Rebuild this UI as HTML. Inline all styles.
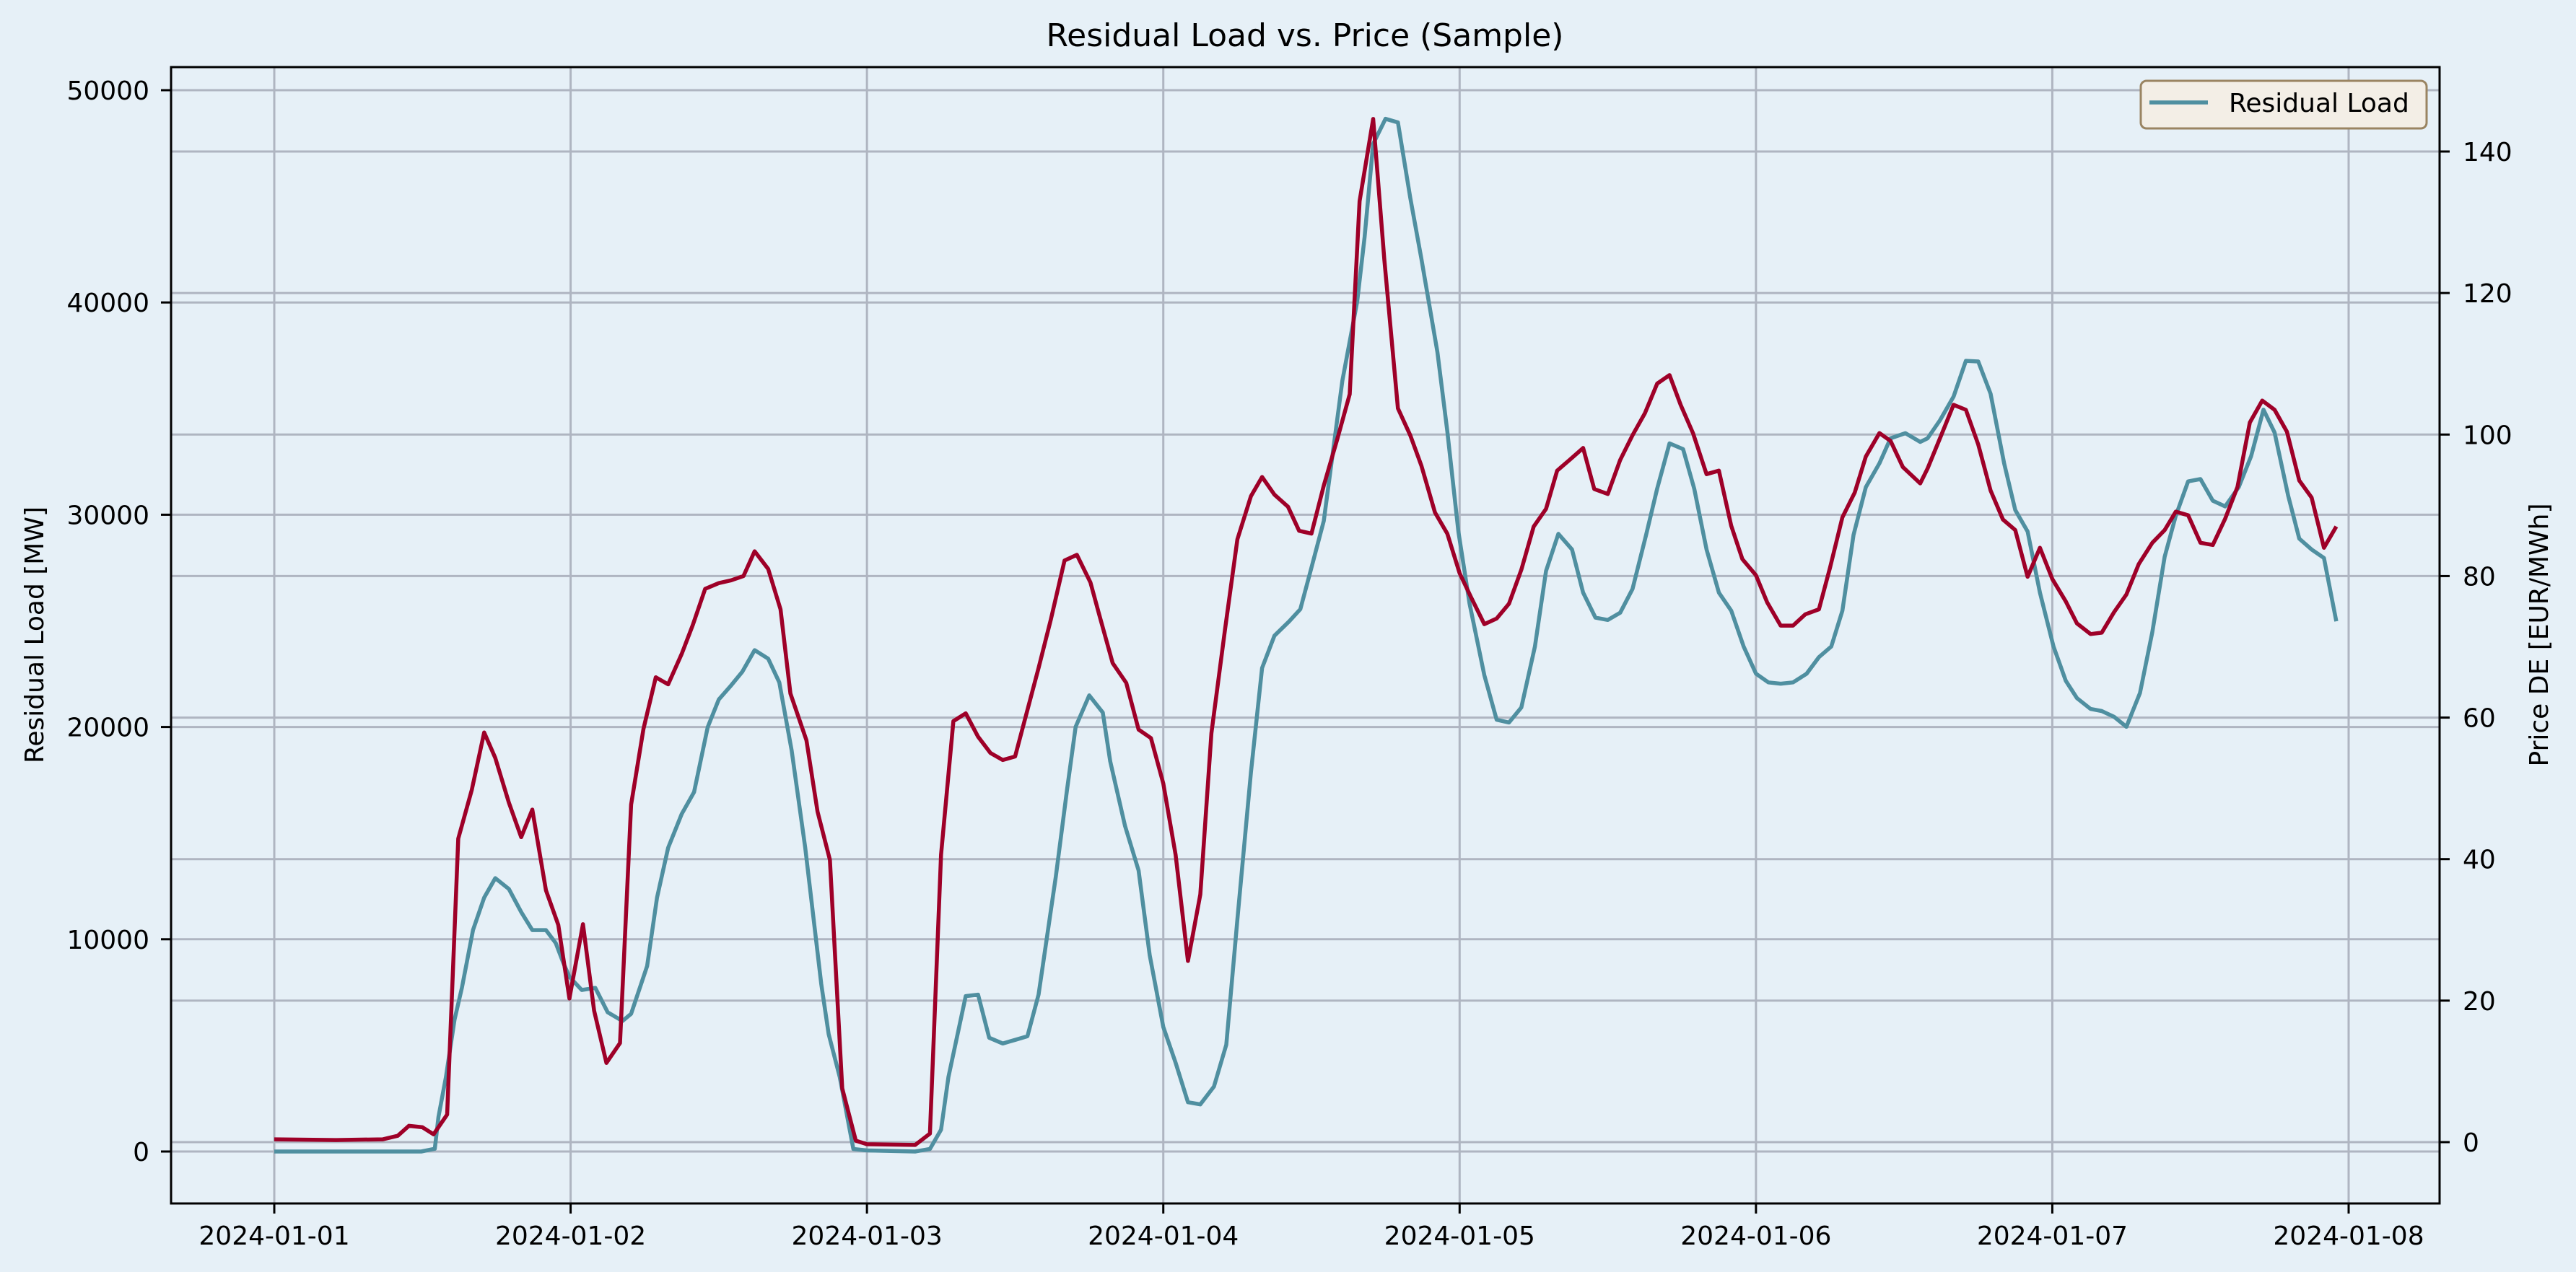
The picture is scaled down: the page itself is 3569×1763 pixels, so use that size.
<!DOCTYPE html>
<html><head><meta charset="utf-8"><title>Residual Load vs. Price (Sample)</title>
<style>
html,body{margin:0;padding:0;background:#e6f0f7;}
svg{display:block;font-family:"DejaVu Sans","Liberation Sans",sans-serif;}
</style></head>
<body>
<svg id="chart" width="3569" height="1763" viewBox="0 0 3569 1763" xmlns="http://www.w3.org/2000/svg">
<rect x="0" y="0" width="3569" height="1763" fill="#e6f0f7"/>
<rect x="237" y="93" width="3143" height="1575" fill="#e6f0f7"/>
<g id="grid"></g>
<g id="series"></g>
<rect x="237" y="93" width="3143" height="1575" fill="none" stroke="#000" stroke-width="3"/>
<g id="ticks"></g>
<text x="1808" y="64" font-size="44" text-anchor="middle" fill="#000">Residual Load vs. Price (Sample)</text>
<text transform="translate(60,880) rotate(-90)" font-size="36" text-anchor="middle" fill="#000">Residual Load [MW]</text>
<text transform="translate(3530,880) rotate(-90)" font-size="36" text-anchor="middle" fill="#000">Price DE [EUR/MWh]</text>
<g>
<rect x="2966" y="112" width="396" height="66" rx="8" fill="#f3eee6" stroke="#9a8462" stroke-width="3"/>
<line x1="2978" y1="142" x2="3059" y2="142" stroke="#4f8fa0" stroke-width="5.5"/>
<text x="3088" y="155" font-size="36" fill="#000">Residual Load</text>
</g>
</svg>
<script>
// Residual load series (hours since 2024-01-01 00:00, MW)
const loadHours = [0,11.9,13,13.3,13.9,14.6,15.2,16.1,17,17.9,19,20,20.9,22,22.8,23.4,23.9,24.9,26,27,28.2,28.9,30.2,31,31.9,33,34,35.1,36,37,37.9,38.9,40,40.9,41.9,
43,44.3,44.9,45.8,46.9,48,51.9,53.1,54,54.6,56,57,57.9,59,60,61,61.9,63.3,64.2,64.9,66,67.1,67.7,68.9,70,70.9,72,73,74,75,76.1,77.1,78,79.1,80,81,82.2,83.1,84,85,86.5,
87.7,88.3,89,90,91,92,92.9,94.2,95,95.9,96.8,98,99,100,101,102.1,103,104,105.1,106,107,108,109,110,111.1,112,113,114.1,115,116,117,118,119,120,121,122,123,124.1,125.1,126.1,127,127.9,128.9,130,130.9,132.1,
133.3,133.9,134.9,136,137,138,139,140.1,141,142,143,144.1,145.1,146,147.1,148,149,150,151.1,152.1,153.1,154,155,156,157,158,159.1,160.1,161.1,162,163.1,164,165,166,167];
const loadValues = [0,0,130,1630,3500,6220,7720,10440,11960,12880,12370,11280,10430,10430,9820,8900,8230,7610,7710,6560,6150,6490,8740,11960,14310,15900,16930,19990,21300,21960,22600,23620,23220,22100,18900,
14320,7900,5530,3500,120,50,0,120,1030,3500,7320,7390,5360,5090,5260,5430,7390,12970,17030,20010,21490,20680,18380,15340,13240,9250,5870,4180,2320,2220,3060,5030,10940,17880,22780,24300,24980,25550,27510,29710,36310,
40030,43070,47470,48650,48480,44930,42060,37660,33940,29200,25820,22440,20340,20210,20920,23790,27350,29100,28360,26330,25150,25040,25380,26500,29040,31230,33360,33090,31230,28360,26330,25480,23790,22510,22100,22040,22100,22510,23290,23790,25480,29040,31300,32420,33600,33840,
33430,33600,34450,35560,37250,37220,35700,32420,30220,29210,26330,23790,22170,21360,20850,20750,20480,20010,21600,24470,28020,29950,31570,31680,30660,30390,31300,32760,34950,33870,30900,28870,28360,27960,24980];
// Price series (hours, EUR/MWh)
const priceHours = [0,5,8.8,10,10.9,12,12.9,14,14.9,16,17,17.9,19,20,20.9,22,23,23.9,25,25.9,26.9,28,28.9,29.9,30.9,31.9,33,33.9,34.9,36,37,38,38.9,40,41,41.8,
43.1,44,45,46,47.1,48,51.9,53.1,54,55,56,57,58,59,60,61.9,62.9,64,65,66.1,66.8,67.9,69,70,71,72,73,74,75,75.9,77,78,79.1,80,81,82.1,83,84,85,86.1,87.1,87.9,
89,89.9,91,92,92.9,94,95,96,96.9,98,99,100,101,102,103,103.9,104.9,106,106.9,108,109,110,111,112,113,113.9,114.9,116,117,118,118.9,120,120.9,122,123,124,125.1,126,127,128,128.9,130,130.9,131.9,
133.3,133.9,135,136,137,138,139,140,141,142,143,144,145.1,146,147.1,148,149,150,151,152.1,153.1,154,155,156,157,158,159,160,161,162,163,164,165,166,167];
const priceValues = [0.4,0.3,0.4,0.9,2.3,2.1,1.1,3.9,42.9,49.8,57.9,54.3,48,43.1,47,35.6,30.7,20.3,30.8,18.6,11.2,14,47.7,58.4,65.7,64.7,69,73.1,78.2,79,79.4,80,83.5,81,75.3,63.4,
56.8,46.7,39.9,7.6,0.2,-0.3,-0.4,1.2,40.6,59.5,60.6,57.3,55,54,54.5,67,73.9,82.2,83,79.1,74.6,67.7,64.9,58.3,57.1,50.7,40.6,25.6,35,57.8,72.5,85.2,91.3,94,91.5,89.8,86.4,86,92.8,99.4,105.7,133,
144.6,124.8,103.7,99.9,95.6,89,86,80.4,77.1,73.2,74,76.1,80.9,87,89.5,94.9,96.4,98.1,92.3,91.6,96.4,99.9,103,107.2,108.4,104.2,100.2,94.4,94.9,87.1,82.4,80.1,76.3,73,73,74.6,75.3,81.2,88.3,91.8,96.9,100.2,99.1,95.4,
93.1,95.2,99.9,104.2,103.5,98.6,92.1,88,86.5,79.9,84,79.6,76.4,73.3,71.8,72,74.9,77.4,81.7,84.7,86.5,89.1,88.6,84.7,84.4,88.1,92.6,101.7,104.8,103.5,100.4,93.5,91.1,84,87];
const xTickLabels = ["2024-01-01","2024-01-02","2024-01-03","2024-01-04","2024-01-05","2024-01-06","2024-01-07","2024-01-08"];
const leftTicks = [0,10000,20000,30000,40000,50000];
const rightTicks = [0,20,40,60,80,100,120,140];

const NS = "http://www.w3.org/2000/svg";
const PL = 237, PR = 3380, PT = 93, PB = 1668;
function xScale(h){ return 380 + h * (3254 - 380) / (7 * 24); }
function yLeft(v){ return 1596 - v * (1596 - 125) / 50000; }
function yRight(v){ return 1583 - v * (1583 - 210) / 140; }
function mk(tag, attrs, parent){ const e = document.createElementNS(NS, tag); for (const k in attrs) e.setAttribute(k, attrs[k]); parent.appendChild(e); return e; }

const grid = document.getElementById('grid');
const ticks = document.getElementById('ticks');
const series = document.getElementById('series');
const gridStyle = {stroke:"#afb5c1", "stroke-width":3};

xTickLabels.forEach((lab, i) => {
  const x = xScale(i * 24);
  const g = mk('line', Object.assign({x1:x, x2:x, y1:PT, y2:PB}, gridStyle), grid);
  
  
  const t = mk('line', {x1:x, x2:x, y1:PB, y2:PB + 14, stroke:"#000", "stroke-width":3}, ticks);
  
  
  const tx = mk('text', {x:x, y:1725, "font-size":36, "text-anchor":"middle", fill:"#000"}, ticks);
  tx.textContent = lab;
  
  
});
leftTicks.forEach(v => {
  const y = yLeft(v);
  const g = mk('line', Object.assign({x1:PL, x2:PR, y1:y, y2:y}, gridStyle), grid);
  
  
  const t = mk('line', {x1:PL - 14, x2:PL, y1:y, y2:y, stroke:"#000", "stroke-width":3}, ticks);
  
  
  const tx = mk('text', {x:207, y:y + 13, "font-size":36, "text-anchor":"end", fill:"#000"}, ticks);
  tx.textContent = String(v);
  
  
});
rightTicks.forEach(v => {
  const y = yRight(v);
  const g = mk('line', Object.assign({x1:PL, x2:PR, y1:y, y2:y}, gridStyle), grid);
  
  
  const t = mk('line', {x1:PR, x2:PR + 14, y1:y, y2:y, stroke:"#000", "stroke-width":3}, ticks);
  
  
  const tx = mk('text', {x:3412, y:y + 13, "font-size":36, "text-anchor":"start", fill:"#000"}, ticks);
  tx.textContent = String(v);
  
  
});

const loadPts = loadHours.map((h, i) => xScale(h).toFixed(1) + ',' + yLeft(loadValues[i]).toFixed(1)).join(' ');
const loadLine = mk('polyline', {points:loadPts, fill:"none", stroke:"#4f8fa0", "stroke-width":5.5, "stroke-linejoin":"round"}, series);



const pricePts = priceHours.map((h, i) => xScale(h).toFixed(1) + ',' + yRight(priceValues[i]).toFixed(1)).join(' ');
const priceLine = mk('polyline', {points:pricePts, fill:"none", stroke:"#9e0028", "stroke-width":5.5, "stroke-linejoin":"round"}, series);


</script>
</body></html>
